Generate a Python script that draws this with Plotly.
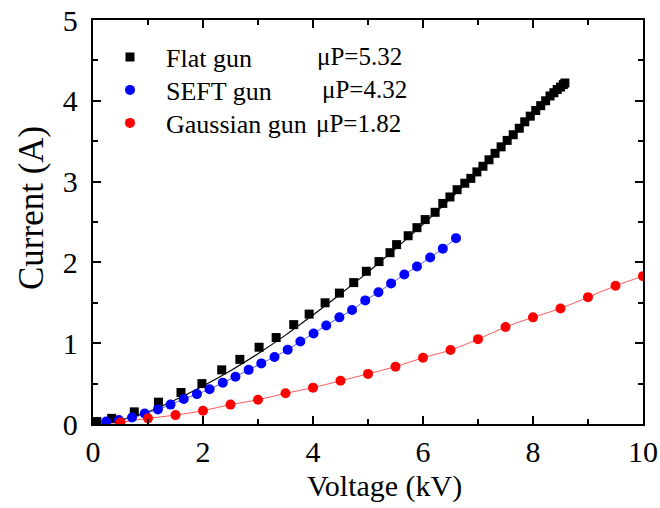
import plotly.graph_objects as go

# ---- data ----
flat_v = [0.07, 0.34, 0.75, 1.19, 1.60, 1.98, 2.34, 2.67, 3.02, 3.33, 3.65, 3.93, 4.22, 4.48,
          4.74, 4.97, 5.20, 5.40, 5.52, 5.73, 5.89, 6.04, 6.22, 6.36, 6.49, 6.62, 6.76, 6.87,
          6.98, 7.09, 7.20, 7.31, 7.42, 7.53, 7.64, 7.75, 7.85, 7.95, 8.05, 8.14, 8.23, 8.31,
          8.38, 8.44, 8.50, 8.55, 8.58]
flat_i = [0.03, 0.07, 0.15, 0.27, 0.39, 0.50, 0.67, 0.80, 0.95, 1.07, 1.23, 1.36, 1.50, 1.62,
          1.75, 1.89, 2.01, 2.12, 2.22, 2.33, 2.43, 2.53, 2.62, 2.73, 2.81, 2.90, 2.98, 3.04,
          3.12, 3.19, 3.27, 3.35, 3.43, 3.51, 3.58, 3.66, 3.74, 3.81, 3.88, 3.94, 4.00, 4.06,
          4.10, 4.14, 4.17, 4.20, 4.22]

flat_fit_v = [0.18, 0.5, 1.0, 1.5, 2.0, 2.5, 3.0, 3.5, 4.0, 4.5, 5.0, 5.5, 6.0, 6.5, 7.0, 7.5, 8.0, 8.5, 8.58]
flat_fit_i = [0.0, 0.05, 0.15, 0.30, 0.47, 0.66, 0.87, 1.10, 1.35, 1.61, 1.88, 2.17, 2.47, 2.79, 3.12, 3.46, 3.81, 4.17, 4.23]

seft_v = [0.24, 0.47, 0.71, 0.94, 1.18, 1.41, 1.65, 1.89, 2.12, 2.36, 2.59, 2.83, 3.06, 3.30,
          3.54, 3.77, 4.01, 4.24, 4.48, 4.71, 4.95, 5.19, 5.42, 5.66, 5.89, 6.13, 6.36, 6.60]
seft_i = [0.03, 0.05, 0.08, 0.13, 0.18, 0.24, 0.31, 0.37, 0.43, 0.51, 0.585, 0.67, 0.75, 0.83,
          0.92, 1.02, 1.12, 1.22, 1.32, 1.41, 1.53, 1.63, 1.74, 1.85, 1.95, 2.06, 2.17, 2.30]

gauss_v = [0.5, 1.0, 1.5, 2.0, 2.5, 3.0, 3.5, 4.0, 4.5, 5.0, 5.5, 6.0, 6.5, 7.0, 7.5, 8.0,
           8.5, 9.0, 9.5, 10.0]
gauss_i = [0.02, 0.07, 0.11, 0.165, 0.24, 0.30, 0.38, 0.45, 0.535, 0.62, 0.71, 0.82, 0.915,
           1.05, 1.20, 1.32, 1.43, 1.57, 1.71, 1.83]

names = ["Flat gun", "SEFT gun", "Gaussian gun"]
perveance = ["μP=5.32", "μP=4.32", "μP=1.82"]

FONT = "Liberation Serif"
W, H = 660, 508
L, T = 93, 20
PW, PH = 550, 404
R, B = W - L - PW, H - T - PH


def px(xp):
    return (xp - L) / PW


def py(yp):
    return 1 - (yp - T) / PH


fig = go.Figure()

# fit / guide lines
fig.add_trace(go.Scatter(x=flat_fit_v, y=flat_fit_i, mode="lines", line=dict(color="black", width=1.2, shape="spline"),
                         showlegend=False, hoverinfo="skip"))
fig.add_trace(go.Scatter(x=[0.1] + seft_v, y=[0.0] + seft_i, mode="lines",
                         line=dict(color="#5a5aff", width=1, shape="spline"), showlegend=False, hoverinfo="skip"))
fig.add_trace(go.Scatter(x=[0.15] + gauss_v, y=[0.0] + gauss_i, mode="lines",
                         line=dict(color="#ff5a5a", width=1, shape="spline"), showlegend=False, hoverinfo="skip"))

# data markers, each with its own legend box
leg_rows = [57, 90, 123]
fig.add_trace(go.Scatter(x=flat_v, y=flat_i, mode="markers", name=names[0], legend="legend",
                         marker=dict(symbol="square", size=9, color="black")))
fig.add_trace(go.Scatter(x=seft_v, y=seft_i, mode="markers", name=names[1], legend="legend2",
                         marker=dict(symbol="circle", size=10, color="#0000ff")))
fig.add_trace(go.Scatter(x=gauss_v, y=gauss_i, mode="markers", name=names[2], legend="legend3",
                         marker=dict(symbol="circle", size=10, color="#ff0000")))

# perveance labels beside legend entries
pv_x = [315, 320, 314]
for t, xp, yp in zip(perveance, pv_x, leg_rows):
    fig.add_annotation(text=t, x=px(xp), y=py(yp), xref="paper", yref="paper",
                       xanchor="left", yanchor="middle", showarrow=False,
                       font=dict(family=FONT, size=25, color="black"))

# axis titles
fig.add_annotation(text="Voltage (kV)", x=px(384), y=py(486), xref="paper", yref="paper",
                   xanchor="center", yanchor="middle", showarrow=False,
                   font=dict(family=FONT, size=30, color="black"))
fig.add_annotation(text="Current (A)", x=px(31), y=py(208), xref="paper", yref="paper",
                   xanchor="center", yanchor="middle", showarrow=False, textangle=-90,
                   font=dict(family=FONT, size=35, color="black"))

axis_common = dict(showline=True, linecolor="black", linewidth=1.5, mirror="allticks",
                   ticks="inside", ticklen=8, tickwidth=1.5, tickcolor="black",
                   showgrid=False, zeroline=False, automargin=False,
                   tickfont=dict(family=FONT, size=30, color="black"))


def leg(yp):
    return dict(x=px(94), y=py(yp), xanchor="left", yanchor="middle",
                bgcolor="rgba(0,0,0,0)", font=dict(family=FONT, size=26, color="black"),
                itemwidth=62, borderwidth=0)


fig.update_layout(
    width=W, height=H,
    margin=dict(l=L, r=R, t=T, b=B),
    plot_bgcolor="white", paper_bgcolor="white",
    font=dict(family=FONT, color="black"),
    xaxis=dict(range=[0, 10], dtick=2, tick0=0,
               minor=dict(dtick=1, ticks="inside", ticklen=5, tickwidth=1.5, tickcolor="black"),
               **axis_common),
    yaxis=dict(range=[0, 5], dtick=1, tick0=0, ticksuffix="\u00a0",
               minor=dict(dtick=0.5, ticks="inside", ticklen=5, tickwidth=1.5, tickcolor="black"),
               **axis_common),
    legend=leg(leg_rows[0]),
    legend2=leg(leg_rows[1]),
    legend3=leg(leg_rows[2]),
    showlegend=True,
)

fig.write_html("out.html", config={"displayModeBar": False},
               post_script="document.body.style.margin='0';document.body.style.overflow='hidden';")
